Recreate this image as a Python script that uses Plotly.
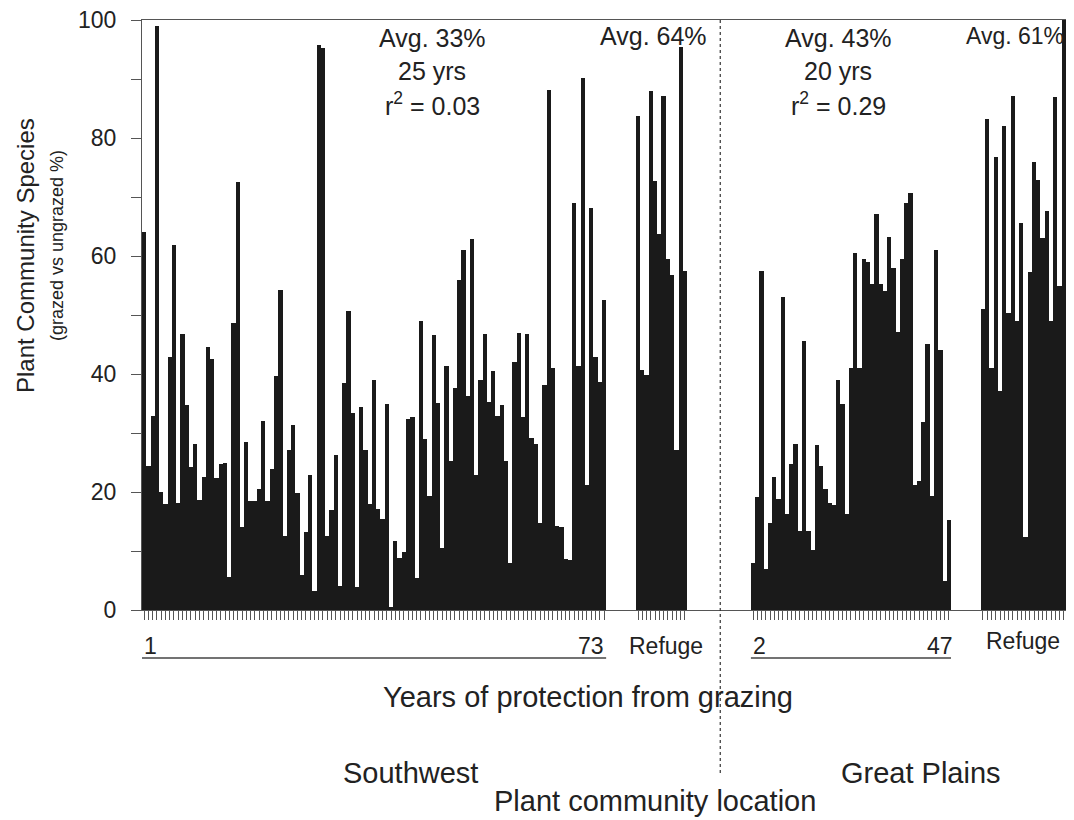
import plotly.graph_objects as go

# grazed vs ungrazed species (%), left to right
sw_years = [64.0, 24.4, 32.9, 98.9, 20.0, 18.0, 42.9, 61.9, 18.2, 46.8, 34.8, 24.2, 28.2, 18.7,
            22.5, 44.5, 42.5, 22.4, 24.7, 25.0, 5.6, 48.6, 72.5, 14.0, 28.4, 18.5, 18.4, 20.5,
            32.1, 18.4, 23.9, 39.6, 54.3, 12.5, 27.2, 31.4, 19.9, 6.0, 13.3, 22.9, 3.3, 95.8,
            95.3, 12.5, 16.9, 26.2, 4.1, 38.5, 50.6, 33.4, 3.9, 34.4, 27.1, 17.9, 38.9, 17.1,
            15.5, 35.0, 0.5, 11.7, 8.8, 9.8, 32.4, 32.7, 5.4, 49.0, 28.9, 19.3, 46.6, 35.1,
            10.5, 41.3, 25.2, 37.6, 56.0, 61.0, 36.3, 62.8, 22.9, 38.9, 46.8, 35.3, 40.5, 32.9,
            34.8, 25.2, 7.9, 42.0, 47.0, 32.7, 46.8, 29.2, 28.1, 14.7, 38.1, 88.1, 41.0, 14.2,
            14.0, 8.7, 8.5, 69.0, 41.3, 90.1, 21.2, 68.2, 42.9, 38.6, 52.6]
sw_refuge = [83.7, 40.7, 39.9, 87.9, 72.7, 63.7, 87.1, 59.5, 56.7, 27.1, 95.5, 57.5]
gp_years = [8.0, 19.1, 57.5, 6.9, 14.8, 22.6, 18.8, 53.1, 16.2, 24.7, 28.1, 13.4, 45.6, 13.4,
            10.2, 28.0, 24.4, 20.5, 18.2, 17.8, 38.9, 34.9, 16.2, 41.1, 60.5, 41.1, 59.5, 59.0,
            55.3, 67.2, 55.3, 54.1, 63.2, 58.0, 47.1, 59.5, 69.0, 70.7, 21.2, 21.9, 31.9, 45.1,
            19.4, 61.0, 44.1, 5.0, 15.3]
gp_refuge = [51.1, 83.3, 41.1, 76.7, 37.1, 82.1, 50.4, 87.2, 49.0, 65.6, 12.4, 57.3, 75.9,
             72.8, 63.0, 67.6, 49.0, 86.9, 55.0, 100.0]

notes_sw = ["Avg. 33%", "25 yrs", "r<sup>2</sup> = 0.03"]
notes_gp = ["Avg. 43%", "20 yrs", "r<sup>2</sup> = 0.29"]
avg_sw_refuge = "Avg. 64%"
avg_gp_refuge = "Avg. 61%"

FONT = "Liberation Sans, Arial, sans-serif"
INK = "#1a1a1a"
LINE = "#555555"
TXT = "#222222"

# slot layout: groups separated by empty slots
groups = [sw_years, sw_refuge, gp_years, gp_refuge]
gaps = [0, 7, 15, 7]
xs, ys, spans = [], [], []
pos = 0
for g, gap in zip(groups, gaps):
    pos += gap
    spans.append((pos, pos + len(g) - 1))
    xs += list(range(pos, pos + len(g)))
    ys += g
    pos += len(g)
n_slots = pos

fig = go.Figure(go.Bar(x=xs, y=ys, marker_color=INK, marker_line_width=0))

PLOT_L, PLOT_R = 142, 1066


# page pixel -> paper coords (plot area spans x 142..1066, y 20..610 on the page)
def px(x):
    return (x - PLOT_L) / (PLOT_R - PLOT_L)


def py(y):
    return (610 - y) / 590


ann = []
for i, t in enumerate(notes_sw):
    ann.append(dict(x=px(432), y=py(38 + 33 * i), text=t))
for i, t in enumerate(notes_gp):
    ann.append(dict(x=px(838), y=py(38 + 33 * i), text=t))
ann.append(dict(x=px(653), y=py(36), text=avg_sw_refuge))
for a in ann:
    a.update(xref="paper", yref="paper", font=dict(size=25, color=TXT))
ann.append(dict(x=px(1066), y=py(36), text=avg_gp_refuge, xanchor="right",
                xref="paper", yref="paper", font=dict(size=23, color=TXT)))

lab_y = py(646)
grp = [
    dict(x=spans[0][0] - 0.5, y=lab_y, text="1", xanchor="left"),
    dict(x=spans[0][1] + 0.5, y=lab_y, text="73", xanchor="right"),
    dict(x=(spans[1][0] + spans[1][1]) / 2 + 1, y=lab_y, text="Refuge"),
    dict(x=spans[2][0] - 0.5, y=lab_y, text="2", xanchor="left"),
    dict(x=spans[2][1] + 1.5, y=lab_y, text="47", xanchor="right"),
    dict(x=(spans[3][0] + spans[3][1]) / 2, y=py(641), text="Refuge"),
]
for a in grp:
    a.update(xref="x", yref="paper", font=dict(size=23, color=TXT))
ann += grp

big = dict(xref="paper", yref="paper", font=dict(size=29, color=TXT))
ann += [
    dict(x=px(588), y=py(697), text="Years of protection from grazing", **big),
    dict(x=px(410), y=py(773), text="Southwest", **big),
    dict(x=px(921), y=py(773), text="Great Plains", **big),
    dict(x=px(655), y=py(801), text="Plant community location", **big),
    dict(x=px(25), y=py(256), text="Plant Community Species", textangle=-90,
         xref="paper", yref="paper", font=dict(size=24, color=TXT)),
    dict(x=px(57), y=py(246), text="(grazed vs ungrazed %)", textangle=-90,
         xref="paper", yref="paper", font=dict(size=18, color=TXT)),
]
for a in ann:
    a.setdefault("xanchor", "center")
    a["yanchor"] = "middle"
    a["showarrow"] = False

mid = (spans[1][1] + spans[2][0]) / 2 + 0.3
shapes = [
    dict(type="line", xref="x", yref="paper", x0=spans[0][0] - 0.5, x1=spans[0][1] + 0.5,
         y0=py(658), y1=py(658), line=dict(color="#444", width=1.5)),
    dict(type="line", xref="x", yref="paper", x0=spans[2][0] - 0.5, x1=spans[2][1] + 0.5,
         y0=py(658), y1=py(658), line=dict(color="#444", width=1.5)),
    dict(type="line", xref="x", yref="paper", x0=mid, x1=mid, y0=1, y1=py(776),
         line=dict(color="#333", width=1.2, dash="dot")),
]

# the page body has an 8px margin, so the figure is drawn 8px in from the corner
fig.update_layout(
    width=1058, height=812,
    margin=dict(l=134, r=0, t=12, b=210),
    plot_bgcolor="white", paper_bgcolor="white",
    bargap=0, showlegend=False,
    font=dict(family=FONT, color=TXT),
    annotations=ann, shapes=shapes,
    xaxis=dict(range=[-0.5, n_slots - 0.5], showline=True, mirror=True, linecolor=LINE,
               linewidth=1, showgrid=False, zeroline=False, ticks="outside", ticklen=9,
               tickcolor=LINE, tickwidth=1, tickvals=xs, showticklabels=False),
    yaxis=dict(range=[0, 100], showline=True, linecolor=LINE, linewidth=1, showgrid=False,
               zeroline=False, ticks="outside", ticklen=10, tickcolor=LINE, tickwidth=1,
               tick0=0, dtick=20,
               minor=dict(dtick=10, ticks="outside", ticklen=10, tickcolor=LINE,
                          showgrid=False),
               tickfont=dict(size=23, color=TXT), ticklabelstandoff=10,
               ticklabeloverflow="allow"),
)

fig.write_html("out.html")
